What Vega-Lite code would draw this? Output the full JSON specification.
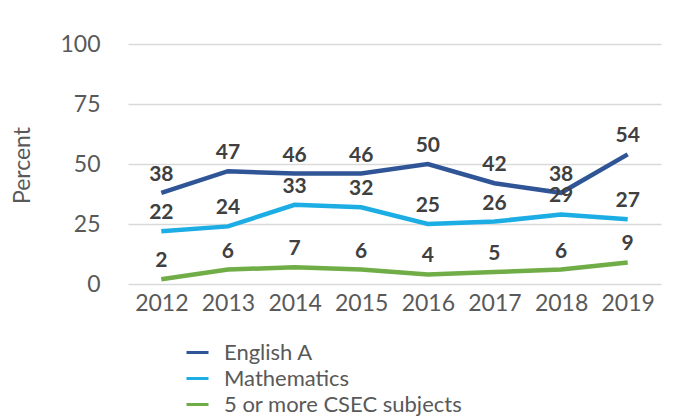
{
  "$schema": "https://vega.github.io/schema/vega-lite/v6.json",
  "width": 533,
  "height": 240,
  "autosize": {"type": "none"},
  "padding": {"left": 128, "top": 44, "right": 15, "bottom": 133},
  "background": "white",
  "config": {
    "view": {"stroke": null},
    "font": "Lato"
  },
  "data": {
    "values": [
      {"year": "2012", "series": "English A", "value": 38},
      {"year": "2013", "series": "English A", "value": 47},
      {"year": "2014", "series": "English A", "value": 46},
      {"year": "2015", "series": "English A", "value": 46},
      {"year": "2016", "series": "English A", "value": 50},
      {"year": "2017", "series": "English A", "value": 42},
      {"year": "2018", "series": "English A", "value": 38},
      {"year": "2019", "series": "English A", "value": 54},
      {"year": "2012", "series": "Mathematics", "value": 22},
      {"year": "2013", "series": "Mathematics", "value": 24},
      {"year": "2014", "series": "Mathematics", "value": 33},
      {"year": "2015", "series": "Mathematics", "value": 32},
      {"year": "2016", "series": "Mathematics", "value": 25},
      {"year": "2017", "series": "Mathematics", "value": 26},
      {"year": "2018", "series": "Mathematics", "value": 29},
      {"year": "2019", "series": "Mathematics", "value": 27},
      {"year": "2012", "series": "5 or more CSEC subjects", "value": 2},
      {"year": "2013", "series": "5 or more CSEC subjects", "value": 6},
      {"year": "2014", "series": "5 or more CSEC subjects", "value": 7},
      {"year": "2015", "series": "5 or more CSEC subjects", "value": 6},
      {"year": "2016", "series": "5 or more CSEC subjects", "value": 4},
      {"year": "2017", "series": "5 or more CSEC subjects", "value": 5},
      {"year": "2018", "series": "5 or more CSEC subjects", "value": 6},
      {"year": "2019", "series": "5 or more CSEC subjects", "value": 9}
    ]
  },
  "encoding": {
    "x": {
      "field": "year", "type": "ordinal",
      "scale": {"type": "point", "padding": 0.5},
      "axis": {
        "title": null, "labelAngle": 0, "domain": false, "ticks": false,
        "labelFontSize": 23, "labelColor": "#595959", "labelPadding": 8
      }
    },
    "y": {
      "field": "value", "type": "quantitative",
      "scale": {"domain": [0, 100]},
      "axis": {
        "title": "Percent", "values": [0, 25, 50, 75, 100],
        "domain": false, "ticks": false,
        "labelFontSize": 23, "labelColor": "#595959", "labelPadding": 28,
        "gridColor": "#d9d9d9", "gridWidth": 1.5,
        "titleFontSize": 23, "titleFontWeight": "normal", "titleColor": "#595959",
        "titleX": -94, "titleY": 121
      }
    },
    "color": {
      "field": "series", "type": "nominal",
      "scale": {
        "domain": ["English A", "Mathematics", "5 or more CSEC subjects"],
        "range": ["#2F5597", "#1CADE4", "#70AD47"]
      },
      "legend": {
        "title": null, "orient": "none", "legendX": 57, "legendY": 296,
        "direction": "vertical",
        "symbolType": "stroke", "symbolStrokeWidth": 3, "symbolSize": 484,
        "labelFontSize": 22, "labelColor": "#595959", "rowPadding": 2,
        "labelOffset": 14, "labelLimit": 400
      }
    }
  },
  "layer": [
    {
      "mark": {"type": "line", "strokeWidth": 4.5}
    },
    {
      "mark": {"type": "text", "dy": -18, "fontSize": 21, "fontWeight": "bold", "color": "#404040"},
      "encoding": {
        "text": {"field": "value", "type": "quantitative"},
        "color": {"value": "#404040"}
      }
    }
  ]
}
